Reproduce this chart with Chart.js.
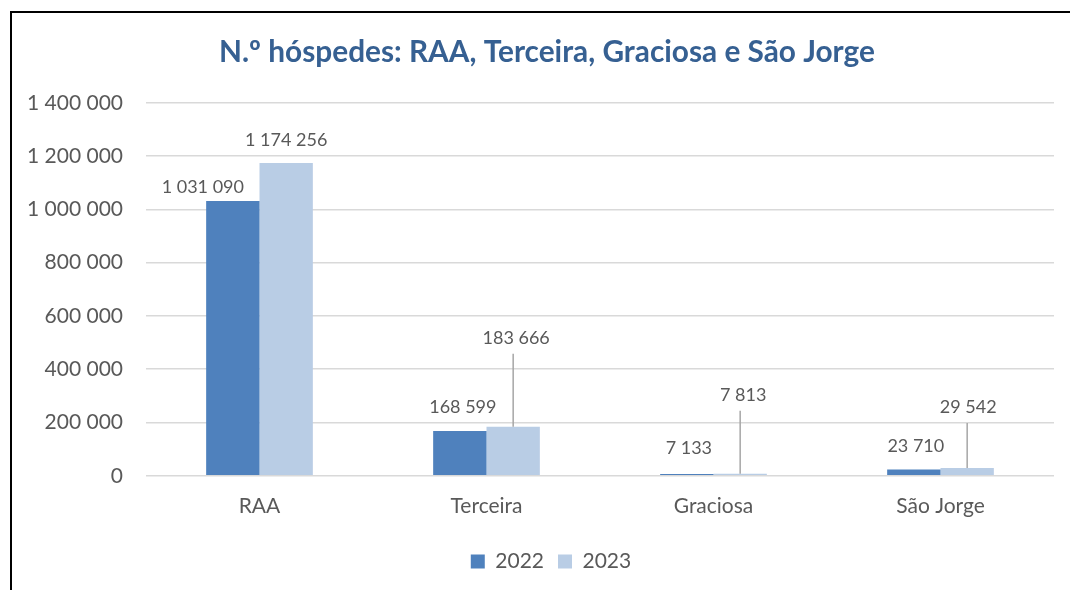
<!DOCTYPE html>
<html>
<head>
<meta charset="utf-8">
<script src="https://cdn.jsdelivr.net/npm/chart.js@4/dist/chart.umd.min.js"></script>
<style>
  html, body { margin: 0; padding: 0; background: #fff; }
  #wrap { position: relative; width: 1070px; height: 590px; }
  #frame { position: absolute; left: 10px; top: 11px; right: 0; bottom: 0;
           border-left: 2px solid #000; border-top: 2px solid #000; pointer-events: none; }
  canvas { position: absolute; left: 0; top: 0; }
</style>
</head>
<body>
<div id="wrap">
  <canvas id="c" width="1070" height="590"></canvas>
  <div id="frame"></div>
</div>
<script>
const categories = ['RAA', 'Terceira', 'Graciosa', 'São Jorge'];
const seriesNames = ['2022', '2023'];
const values2022 = [1031090, 168599, 7133, 23710];
const values2023 = [1174256, 183666, 7813, 29542];
const yTicks = [0, 200000, 400000, 600000, 800000, 1000000, 1200000, 1400000];
const titleText = 'N.º hóspedes: RAA, Terceira, Graciosa e São Jorge';

const fmt = v => String(v).replace(/\B(?=(\d{3})+(?!\d))/g, ' ');
const FONT = 'Lato, "Open Sans", sans-serif';
const TEXT = '#595959';

// label placement (pixel offsets from bar top, Excel-like manual placement)
const labelLayout = {
  0: { dx: [-30, 3, 2, 2], dy: [-14, -24, -26, -23] },
  1: { dx: [0, 3, 3, 1], dy: [-23, -89, -79, -61] }
};

const dataLabels = {
  id: 'dataLabels',
  afterDatasetsDraw(chart) {
    const ctx = chart.ctx;
    ctx.save();
    ctx.font = '18px ' + FONT;
    ctx.fillStyle = TEXT;
    ctx.textAlign = 'center';
    ctx.textBaseline = 'middle';
    chart.data.datasets.forEach((ds, di) => {
      const meta = chart.getDatasetMeta(di);
      meta.data.forEach((bar, i) => {
        const lay = labelLayout[di];
        const x = bar.x + lay.dx[i];
        const y = bar.y + lay.dy[i];
        if (lay.dy[i] < -40) {
          ctx.strokeStyle = '#A6A6A6';
          ctx.lineWidth = 1.5;
          ctx.beginPath();
          ctx.moveTo(bar.x, bar.y);
          ctx.lineTo(bar.x, y + 16);
          ctx.stroke();
        }
        ctx.fillText(fmt(ds.data[i]), x, y);
      });
    });
    ctx.restore();
  }
};

// shift title and legend (they are centred on the whole frame, not the plot)
const shiftBoxes = {
  id: 'shiftBoxes',
  afterLayout(chart) {
    if (chart.titleBlock) { chart.titleBlock.left += 20; chart.titleBlock.right += 20; }
    if (chart.legend) {
      chart.legend.left += 24; chart.legend.right += 24;
      chart.legend.top += 8; chart.legend.bottom += 8;
    }
  }
};

new Chart(document.getElementById('c'), {
  type: 'bar',
  data: {
    labels: categories,
    datasets: [
      { label: seriesNames[0], data: values2022, backgroundColor: '#4F81BD' },
      { label: seriesNames[1], data: values2023, backgroundColor: '#B9CDE5' }
    ]
  },
  options: {
    responsive: false,
    animation: false,
    layout: { padding: { left: 0, right: 16, top: 0, bottom: 16 } },
    datasets: { bar: { categoryPercentage: 0.47, barPercentage: 1.0 } },
    plugins: {
      title: {
        display: true, text: titleText, color: '#366092',
        font: { family: FONT, size: 29.8, weight: 'bold' },
        padding: { top: 35, bottom: 32 }
      },
      legend: {
        position: 'bottom',
        labels: {
          color: TEXT, font: { family: FONT, size: 21 },
          boxWidth: 14, boxHeight: 14, padding: 14
        }
      },
      tooltip: { enabled: false }
    },
    scales: {
      x: {
        grid: { display: false },
        border: { display: false },
        ticks: { color: TEXT, font: { family: FONT, size: 21 }, padding: 10 }
      },
      y: {
        min: 0, max: 1400000,
        afterFit(scale) { scale.width = 146; },
        afterBuildTicks(scale) { scale.ticks = yTicks.map(v => ({ value: v })); },
        grid: { color: '#D9D9D9', lineWidth: 1.5, drawTicks: false },
        border: { display: false },
        ticks: { color: TEXT, font: { family: FONT, size: 21 }, padding: 23, callback: v => fmt(v) }
      }
    }
  },
  plugins: [dataLabels, shiftBoxes]
});
</script>
</body>
</html>
